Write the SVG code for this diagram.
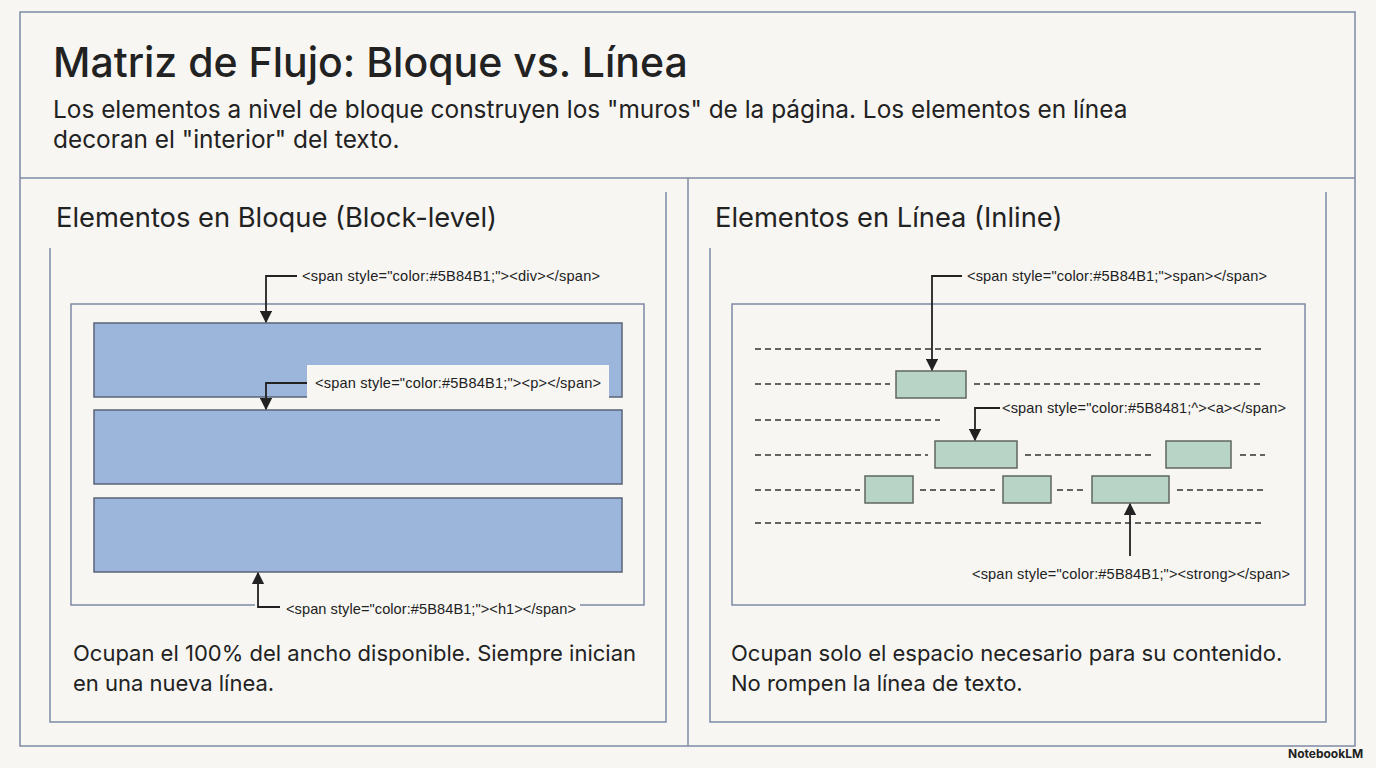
<svg xmlns="http://www.w3.org/2000/svg" width="1376" height="768" viewBox="0 0 1376 768">
<style>
text{font-family:"Inter","Liberation Sans",sans-serif;fill:#222}
.frame{fill:none;stroke:#7f8aa5;stroke-width:1.5}
.blk{fill:#9bb6da;stroke:#5a6478;stroke-width:1.5}
.inl{fill:#b7d4c6;stroke:#5f6660;stroke-width:1.5}
.dash{stroke:#333;stroke-width:1.3;stroke-dasharray:6 4;fill:none}
.arr{fill:none;stroke:#222;stroke-width:1.8;marker-end:url(#ah)}
.lbl{font-family:"Liberation Sans",sans-serif;font-size:14.6px;fill:#222}
</style>
<defs><marker id="ah" viewBox="0 0 10 10" refX="9" refY="5" markerWidth="7" markerHeight="7" orient="auto"><path d="M0,0L10,5L0,10z" fill="#222"/></marker></defs>
<rect width="1376" height="768" fill="#f7f6f3"/>
<rect x="20" y="12" width="1335" height="734" class="frame"/>
<line x1="20" y1="178" x2="1355" y2="178" class="frame"/>
<line x1="688" y1="178" x2="688" y2="746" class="frame"/>
<g id="header">
<text x="53" y="77" font-size="41" font-weight="500">Matriz de Flujo: Bloque vs. Línea</text>
<text x="53" y="118" font-size="24.4">Los elementos a nivel de bloque construyen los "muros" de la página. Los elementos en línea</text>
<text x="53" y="148" font-size="24.4">decoran el "interior" del texto.</text>
</g>
<g id="block-panel">
<polyline points="50,248 50,722 666,722 666,192" class="frame"/>
<text x="56" y="227" font-size="27.3">Elementos en Bloque (Block-level)</text>
<polyline points="580,605 644,605 644,304 71,304 71,605 255,605" class="frame"/>
<rect x="94" y="323" width="528" height="74" class="blk"/>
<rect x="94" y="410" width="528" height="74" class="blk"/>
<rect x="94" y="498" width="528" height="74" class="blk"/>
<rect x="307" y="365" width="302" height="36" fill="#f7f6f3"/>
<text x="73" y="661" font-size="22">Ocupan el 100% del ancho disponible. Siempre inician</text>
<text x="73" y="691" font-size="22">en una nueva línea.</text>
</g>
<g id="inline-panel">
<polyline points="710,248 710,722 1326,722 1326,192" class="frame"/>
<text x="715" y="227" font-size="27.3">Elementos en Línea (Inline)</text>
<rect x="732" y="304" width="573" height="301" class="frame"/>
<path class="dash" d="M755,349H1263M755,384H890M974,384H1263M755,420H940M755,455H928M1025,455H1155M1240,455H1265M755,490H860M920,490H995M1057,490H1085M1177,490H1263M755,523H1263"/>
<rect x="896" y="371" width="70" height="27" class="inl"/>
<rect x="935" y="441" width="82" height="27" class="inl"/>
<rect x="1166" y="441" width="65" height="27" class="inl"/>
<rect x="865" y="476" width="48" height="27" class="inl"/>
<rect x="1003" y="476" width="48" height="27" class="inl"/>
<rect x="1092" y="476" width="77" height="27" class="inl"/>
<text x="731" y="661" font-size="22">Ocupan solo el espacio necesario para su contenido.</text>
<text x="731" y="691" font-size="22">No rompen la línea de texto.</text>
</g>
<g id="connectors">
<polyline points="297,276 266,276 266,322" class="arr"/>
<polyline points="307,383 266,383 266,409" class="arr"/>
<polyline points="280,607 258,607 258,573" class="arr"/>
<polyline points="962,276 932,276 932,370" class="arr"/>
<polyline points="1000,408 975,408 975,440" class="arr"/>
<polyline points="1130,556 1130,504" class="arr"/>
</g>
<g id="labels">
<text class="lbl" x="302" y="281" textLength="298">&lt;span style="color:#5B84B1;"&gt;&lt;div&gt;&lt;/span&gt;</text>
<text class="lbl" x="315" y="388" textLength="286">&lt;span style="color:#5B84B1;"&gt;&lt;p&gt;&lt;/span&gt;</text>
<text class="lbl" x="286" y="614" textLength="290">&lt;span style="color:#5B84B1;"&gt;&lt;h1&gt;&lt;/span&gt;</text>
<text class="lbl" x="967" y="281" textLength="300">&lt;span style="color:#5B84B1;"&gt;span&gt;&lt;/span&gt;</text>
<text class="lbl" x="1002" y="413" textLength="284">&lt;span style="color:#5B8481;^&gt;&lt;a&gt;&lt;/span&gt;</text>
<text class="lbl" x="972" y="579" textLength="318">&lt;span style="color:#5B84B1;"&gt;&lt;strong&gt;&lt;/span&gt;</text>
</g>
<text x="1288" y="758" font-size="12" font-weight="bold">NotebookLM</text>
</svg>
